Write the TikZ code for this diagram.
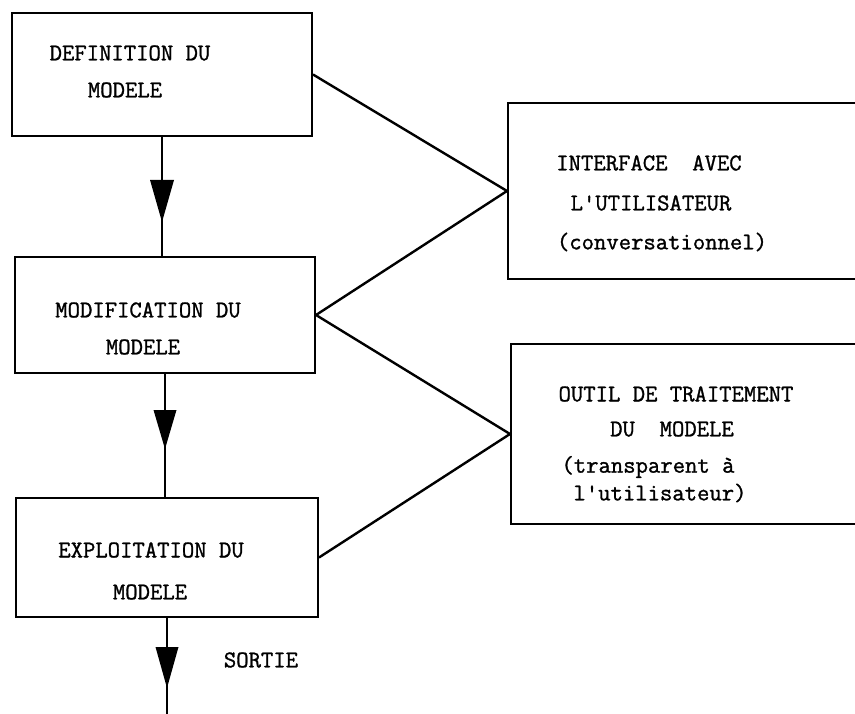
\documentclass[tikz,border=0pt]{standalone}
\usepackage{fontspec}
\newfontfamily\tw[FakeBold=1.2]{Latin Modern Mono}
\begin{document}
\begin{tikzpicture}[x=1pt,y=-1pt,
  box/.style={draw=black,line width=2pt,rectangle,inner sep=0pt},
  txt/.style={font=\tw\fontsize{24}{28}\selectfont,inner sep=0pt,anchor=center},
  link/.style={line width=2.4pt},
  head/.style={fill=black}]
\useasboundingbox (0,0) rectangle (855,714);
\clip (0,0) rectangle (855,714);
% main boxes
\node[box,minimum width=300pt,minimum height=123pt] (b1) at (162,74.5) {};
\node[box,minimum width=300pt,minimum height=116pt] (b2) at (165,315) {};
\node[box,minimum width=302pt,minimum height=119pt] (b3) at (167,557.5) {};
\node[box,minimum width=392pt,minimum height=176pt] (ui) at (704,191) {};
\node[box,minimum width=389pt,minimum height=180pt] (ot) at (705.5,434) {};
% texts
\node[txt] (t1a) at (130,53) {DEFINITION DU};
\node[txt] (t1b) at (125,90) {MODELE};
\node[txt] (t2a) at (148,310) {MODIFICATION DU};
\node[txt] (t2b) at (143,347) {MODELE};
\node[txt] (t3a) at (151,550) {EXPLOITATION DU};
\node[txt] (t3b) at (150,592) {MODELE};
\node[txt] (u1) at (649,163) {INTERFACE\ \ AVEC};
\node[txt] (u2) at (651,203) {L'UTILISATEUR};
\node[txt] (u3) at (662,242) {(conversationnel)};
\node[txt] (o1) at (676,394) {OUTIL DE TRAITEMENT};
\node[txt] (o2) at (672,429) {DU\ \ MODELE};
\node[txt] (o3) at (648,467) {(transparent à};
\node[txt] (o4) at (660,493) {l'utilisateur)};
\node[txt] (so) at (261,660) {SORTIE};
% connectors
\coordinate (out) at (167,714);
\draw[link] (b1.south) -- (b1.south |- b2.north);
\draw[link] (b2.south) -- (b2.south |- b3.north);
\draw[link] (b3.south) -- (b3.south |- out);
\draw[link] (b1.east) -- (ui.west);
\draw[link] (b2.east) -- (ui.west);
\draw[link] (b2.east) -- (ot.west);
\draw[link] (b3.east) -- (ot.west);
% arrowheads
\fill[head] (150,180) -- (174,180) -- (162,222) -- cycle;
\fill[head] (153.5,410) -- (176.5,410) -- (165,449) -- cycle;
\fill[head] (155.5,647) -- (178.5,647) -- (167,688) -- cycle;
\end{tikzpicture}
\end{document}
